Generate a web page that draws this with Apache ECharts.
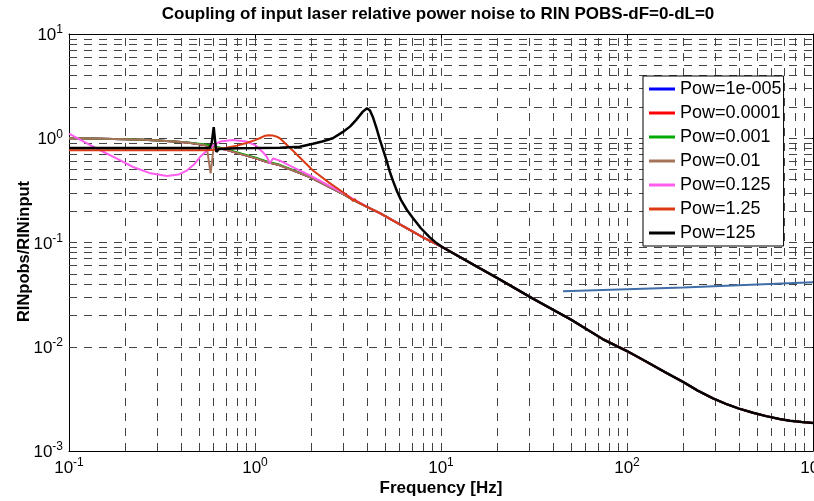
<!DOCTYPE html>
<html><head><meta charset="utf-8">
<script src="https://cdn.jsdelivr.net/npm/echarts@6/dist/echarts.min.js"></script>
<style>html,body{margin:0;padding:0;background:#fff}#c{width:814px;height:501px}</style>
</head><body><div id="c"></div>
<script>
// ---------- text ----------
const titleText = 'Coupling of input laser relative power noise to RIN POBS-dF=0-dL=0';
const xName = 'Frequency [Hz]';
const yName = 'RINpobs/RINinput';
const seriesNames = ['Pow=1e-005', 'Pow=0.0001', 'Pow=0.001', 'Pow=0.01', 'Pow=0.125', 'Pow=1.25', 'Pow=125'];
const seriesColors = ['#0000ff', '#ff0000', '#00aa00', '#a5745a', '#ff5cf0', '#dc3a12', '#000000'];
const extraColor = '#3f6ea8';

// ---------- axes ----------
const xMin = 0.1, xMax = 1000;
const yMin = 0.001, yMax = 10;
const xDecades = [0.1, 1, 10, 100];
const yDecades = [0.001, 0.01, 0.1, 1];
const gridMultipliers = [1, 2, 3, 4, 5, 6, 7, 8, 9];

// ---------- data (frequency Hz, ratio) ----------
const commonTail = [[4.0,0.22],[4.72,0.19],[5.5,0.163],[6.5,0.138],[8.0,0.112],[10.25,0.0896],[15,0.061],[20,0.0458],[31.2,0.029],[50,0.0182],[74.3,0.0118],[100,0.0091],[121.9,0.0075],[160,0.0057],[200,0.0046],[240,0.0038],[290,0.0032],[340,0.00283],[400,0.00255],[476,0.00233],[560,0.00216],[660,0.00203],[752,0.00195],[870,0.0019],[1000,0.00186]];
const lowPowHead = [[0.1,1.0],[0.15,0.99],[0.2,0.978],[0.25,0.965],[0.3,0.95],[0.35,0.935],[0.4,0.92],[0.45,0.9],[0.5,0.878],[0.55,0.855],[0.6,0.83],[0.7,0.775],[0.85,0.70],[1.0,0.645],[1.16,0.59],[1.36,0.55],[1.7,0.47],[2.0,0.42],[2.5,0.342],[3.0,0.289],[3.37,0.256]];
const greenHead = [[0.1,1.0],[0.15,0.99],[0.2,0.98],[0.25,0.968],[0.3,0.953],[0.35,0.938],[0.4,0.923],[0.45,0.905],[0.5,0.885],[0.55,0.866],[0.6,0.845],[0.7,0.787],[0.85,0.712],[1.0,0.656],[1.16,0.6],[1.36,0.556],[1.7,0.474],[2.0,0.422],[2.5,0.343],[3.0,0.29],[3.37,0.256]];
const brownHead = [[0.1,1.0],[0.15,0.99],[0.2,0.978],[0.25,0.965],[0.3,0.95],[0.35,0.935],[0.4,0.92],[0.45,0.9],[0.5,0.878],[0.549,0.85],[0.577,0.46],[0.6,0.82],[0.7,0.775],[0.85,0.70],[1.0,0.645],[1.16,0.59],[1.36,0.55],[1.7,0.47],[2.0,0.42],[2.5,0.342],[3.0,0.289],[3.37,0.256]];
const pinkHead = [[0.1,1.11],[0.12,0.93],[0.147,0.767],[0.18,0.64],[0.221,0.53],[0.27,0.465],[0.336,0.434],[0.39,0.45],[0.43,0.49],[0.47,0.56],[0.506,0.66],[0.56,0.78],[0.6,0.86],[0.65,0.93],[0.76,0.96],[0.9,0.93],[1.0,0.86],[1.1,0.74],[1.16,0.66],[1.2,0.575],[1.25,0.64],[1.36,0.61],[1.7,0.5],[2.0,0.435],[2.5,0.352],[3.0,0.296],[3.37,0.262]];
const orangeHead = [[0.1,0.767],[0.3,0.767],[0.55,0.767],[0.6,0.775],[0.7,0.81],[0.8,0.85],[0.9,0.9],[1.0,0.96],[1.06,1.0],[1.12,1.05],[1.18,1.07],[1.25,1.06],[1.3,1.04],[1.36,1.0],[1.6,0.76],[2.05,0.49],[2.5,0.375],[3.0,0.3],[3.3,0.262],[3.37,0.25],[3.42,0.262],[3.5,0.25]];
const blackHead = [[0.1,0.807],[0.3,0.807],[0.57,0.807],[0.585,0.9],[0.6,1.28],[0.61,0.95],[0.62,0.74],[0.64,0.79],[0.8,0.803],[1.0,0.805],[1.36,0.81],[1.74,0.83],[2.05,0.887],[2.3,0.93],[2.62,1.0],[2.97,1.15],[3.25,1.3],[3.5,1.5],[3.8,1.8],[4.0,1.94],[4.15,1.85],[4.3,1.6],[4.5,1.25],[4.7,0.96],[4.9,0.76],[5.1,0.61],[5.3,0.48],[5.52,0.39],[5.8,0.31],[6.1,0.255],[6.56,0.205],[7.06,0.172],[7.8,0.137],[8.7,0.112],[9.5,0.098]];
const extraLine = [[45.3,0.034],[200,0.037],[1000,0.0415]];

function tailFrom(f) { return commonTail.filter(p => p[0] > f); }
const seriesData = [
  lowPowHead.concat(tailFrom(3.37)),
  lowPowHead.concat(tailFrom(3.37)),
  greenHead.concat(tailFrom(3.37)),
  brownHead.concat(tailFrom(3.37)),
  pinkHead.concat(tailFrom(3.37)),
  orangeHead.concat(tailFrom(3.5)),
  blackHead.concat(tailFrom(9.5))
];

const gridX = [], gridY = [];
xDecades.forEach(d => gridMultipliers.forEach(m => { const v = +(d * m).toPrecision(3); if (v > xMin) gridX.push(v); }));
yDecades.forEach(d => gridMultipliers.forEach(m => { const v = +(d * m).toPrecision(3); if (v > yMin) gridY.push(v); }));

const FONT = 'Arial, "Liberation Sans", sans-serif';
const expLabel = v => '{b|10}{s|' + Math.round(Math.log10(v)) + '}';
const richLbl = {
  b: { fontSize: 17, lineHeight: 20, verticalAlign: 'bottom', fontFamily: FONT, color: '#000' },
  s: { fontSize: 12, lineHeight: 12, verticalAlign: 'top', fontFamily: FONT, color: '#000' }
};

const chart = echarts.init(document.getElementById('c'), null, { renderer: 'canvas' });
const series = [{
  type: 'line', name: '__grid', data: [[1, 1]], showSymbol: false, silent: true, z: 1,
  lineStyle: { opacity: 0 },
  markLine: {
    silent: true, symbol: ['none', 'none'], label: { show: false }, animation: false,
    lineStyle: { color: '#444', width: 1, type: [8, 7] },
    emphasis: { disabled: true },
    data: gridX.map(v => ({ xAxis: v })).concat(gridY.map(v => ({ yAxis: v })))
  }
}];
seriesNames.forEach((n, i) => series.push({
  type: 'line', name: n, data: seriesData[i], showSymbol: false, symbol: 'none', z: 3 + i,
  lineStyle: { color: seriesColors[i], width: i === 6 ? 2.5 : 2 },
  itemStyle: { color: seriesColors[i] }, emphasis: { disabled: true }
}));
series.push({
  type: 'line', name: 'extra', data: extraLine, showSymbol: false, symbol: 'none', z: 10,
  lineStyle: { color: extraColor, width: 2 }, itemStyle: { color: extraColor }, emphasis: { disabled: true }
});

chart.setOption({
  animation: false,
  backgroundColor: '#fff',
  title: {
    text: titleText, left: 438, top: 6, padding: 0, textAlign: 'center',
    textStyle: { fontFamily: FONT, fontSize: 17, fontWeight: 'bold', color: '#000' }
  },
  grid: { left: 69, top: 34, right: 1, bottom: 50, containLabel: false, outerBoundsMode: 'none' },
  legend: {
    data: seriesNames, orient: 'vertical', left: 643, top: 76,
    padding: [3, 2, 3, 6], itemGap: 4, itemWidth: 26, itemHeight: 3, icon: 'rect',
    borderColor: '#000', borderWidth: 1, backgroundColor: '#fff', selectedMode: false,
    textStyle: { fontFamily: FONT, fontSize: 18, lineHeight: 20, color: '#000' }, z: 20
  },
  xAxis: [{
    type: 'log', logBase: 10, min: xMin, max: xMax, position: 'bottom',
    name: xName, nameLocation: 'middle', nameGap: 29, nameMoveOverlap: false,
    nameTextStyle: { fontFamily: FONT, fontSize: 17, fontWeight: 'bold', color: '#000' },
    axisLine: { show: true, lineStyle: { color: '#000', width: 1 } },
    axisTick: { show: true, inside: true, length: 6, lineStyle: { color: '#000' } },
    axisLabel: { formatter: expLabel, rich: richLbl, margin: 6, showMaxLabel: true, showMinLabel: true, hideOverlap: false },
    splitLine: { show: false }
  }, {
    type: 'log', logBase: 10, min: xMin, max: xMax, position: 'top',
    axisLine: { show: true, lineStyle: { color: '#000', width: 1 } },
    axisTick: { show: true, inside: true, length: 6, lineStyle: { color: '#000' } },
    axisLabel: { show: false }, splitLine: { show: false }
  }],
  yAxis: [{
    type: 'log', logBase: 10, min: yMin, max: yMax, position: 'left',
    name: yName, nameLocation: 'middle', nameGap: 36, nameRotate: 90, nameMoveOverlap: false,
    nameTextStyle: { fontFamily: FONT, fontSize: 16.5, fontWeight: 'bold', color: '#000', padding: [0, 18, 0, 0] },
    axisLine: { show: true, lineStyle: { color: '#000', width: 1 } },
    axisTick: { show: true, inside: true, length: 6, lineStyle: { color: '#000' } },
    axisLabel: { formatter: expLabel, rich: richLbl, margin: 6 },
    splitLine: { show: false }
  }, {
    type: 'log', logBase: 10, min: yMin, max: yMax, position: 'right',
    axisLine: { show: true, lineStyle: { color: '#000', width: 1 } },
    axisTick: { show: true, inside: true, length: 6, lineStyle: { color: '#000' } },
    axisLabel: { show: false }, splitLine: { show: false }
  }],
  series: series
});
</script>
</body></html>
